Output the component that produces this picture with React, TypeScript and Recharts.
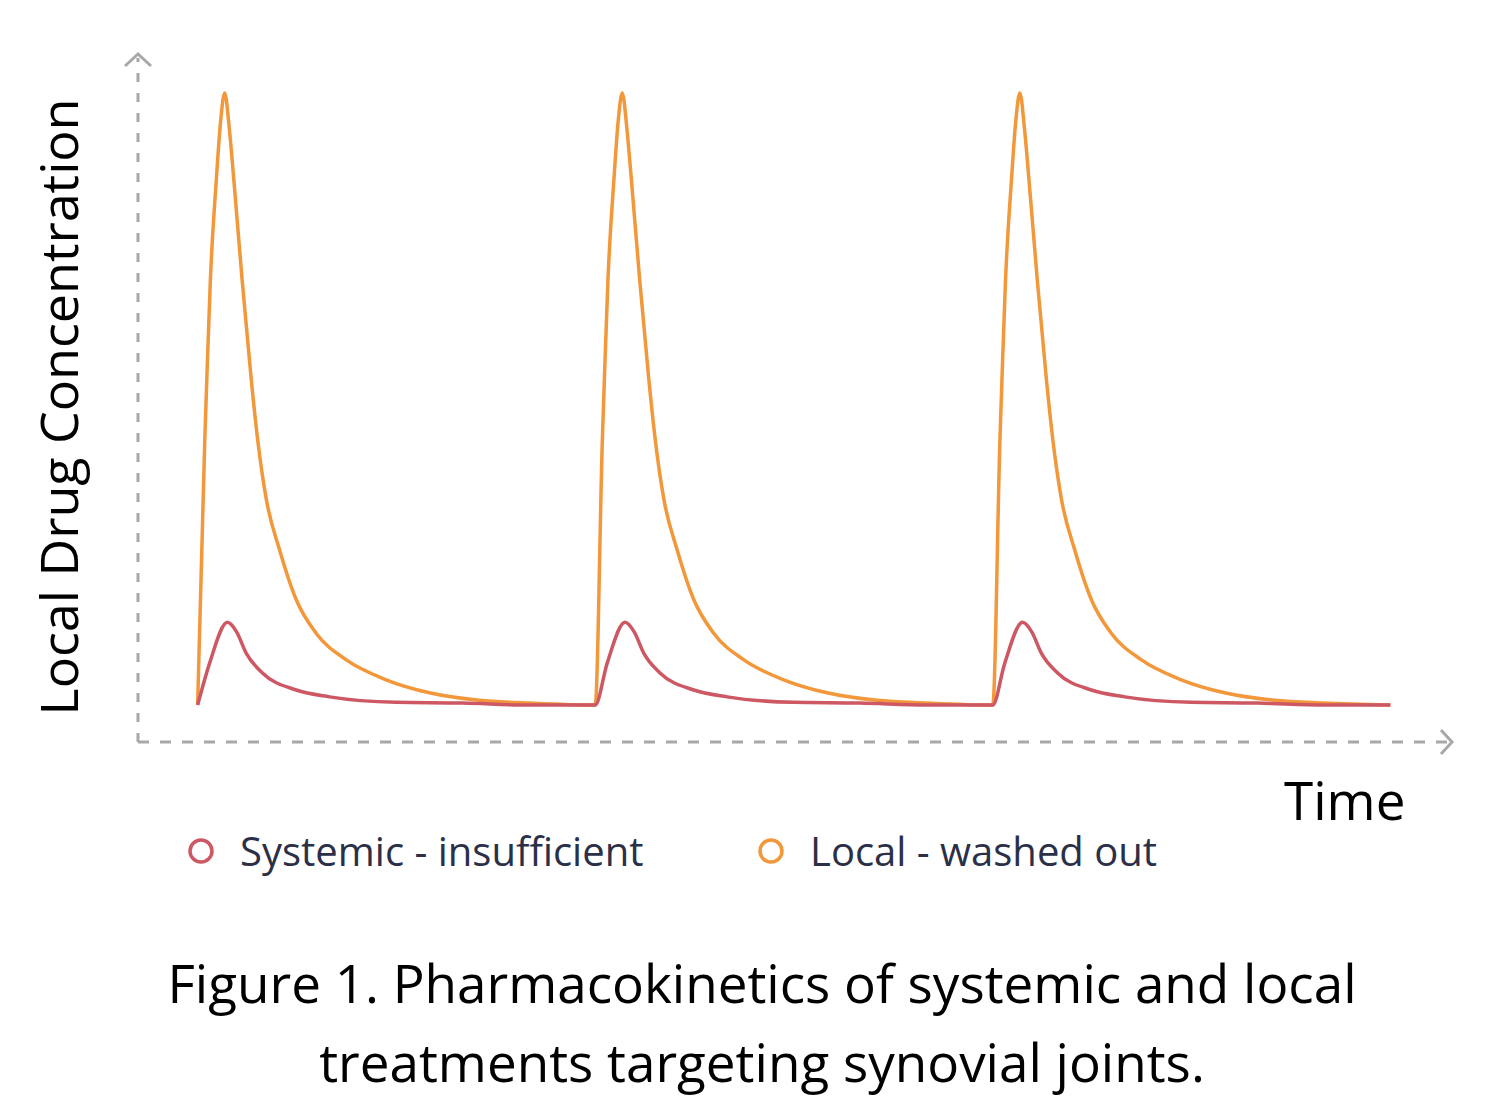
import { LineChart, Line, XAxis, YAxis, ReferenceDot, ReferenceLine } from 'recharts';

// one injection every 10 time units
const doseTimes = [1.5, 11.5, 21.5];

// local injection: time since dose -> concentration
const localOffsets = [0, 0.18, 0.23, 0.32, 0.47, 0.58, 0.68, 0.8, 0.91, 1.12, 1.35, 1.51, 1.73, 2.06, 2.48, 2.98, 3.74, 4.74, 5.83, 7.09, 8.34, 10];
const localValues = [5.4, 44.2, 52.9, 67.5, 82.2, 90.9, 94.9, 89.5, 82.2, 67.5, 52.9, 44.2, 35.4, 28.1, 20.8, 15.9, 12.0, 9.1, 7.2, 6.1, 5.7, 5.4];

// systemic treatment: time since dose -> concentration
const systemicOffsets = [0, 0.3, 0.75, 0.98, 1.22, 1.63, 2.48, 3.32, 4.99, 6.66, 8.34, 10];
const systemicValues = [5.4, 11.5, 17.5, 16.1, 13.0, 10.1, 7.6, 6.6, 5.8, 5.7, 5.4, 5.4];

const seriesNames = ['Systemic - insufficient', 'Local - washed out'];
const seriesColors = ['#cd5863', '#f2973a'];

const axisColor = '#a8a8a8';

function buildSeries(offsets: number[], values: number[]) {
  const out: { t: number; c: number }[] = [];
  doseTimes.forEach((dose, i) => {
    const last = i === doseTimes.length - 1;
    offsets.forEach((o, j) => {
      if (!last && j === offsets.length - 1) return; // next dose starts here
      out.push({ t: dose + o, c: values[j] });
    });
  });
  return out;
}

const systemicData = buildSeries(systemicOffsets, systemicValues);
const localData = buildSeries(localOffsets, localValues);

const UpArrow = (p: any) => (
  <path d={`M${p.cx - 13},${p.cy + 8} L${p.cx},${p.cy - 4} L${p.cx + 13},${p.cy + 8}`}
    fill="none" stroke={axisColor} strokeWidth={3} />
);
const RightArrow = (p: any) => (
  <path d={`M${p.cx - 9},${p.cy - 12} L${p.cx + 2},${p.cy} L${p.cx - 9},${p.cy + 12}`}
    fill="none" stroke={axisColor} strokeWidth={3} />
);

export default function App() {
  const font = '"Open Sans", sans-serif';
  return (
    <div style={{ position: 'relative', width: 1500, height: 1113, margin: -8, background: '#fff', fontFamily: font }}>
      <LineChart width={1500} height={760} margin={{ top: 58, right: 50, bottom: 18, left: 138 }}>
        <XAxis type="number" dataKey="t" domain={[0, 33]} height={0} tick={false} tickLine={false} axisLine={false} />
        <YAxis type="number" domain={[0, 100]} width={0} tick={false} tickLine={false} axisLine={false} />
        <ReferenceLine x={0} stroke={axisColor} strokeWidth={3} strokeDasharray="9 11" ifOverflow="visible" />
        <ReferenceLine y={0} stroke={axisColor} strokeWidth={3} strokeDasharray="11 11" ifOverflow="visible" />
        <Line data={localData} dataKey="c" type="monotone" stroke={seriesColors[1]} strokeWidth={3.5}
          dot={false} isAnimationActive={false} name={seriesNames[1]} />
        <Line data={systemicData} dataKey="c" type="monotone" stroke={seriesColors[0]} strokeWidth={3.5}
          dot={false} isAnimationActive={false} name={seriesNames[0]} />
        <ReferenceDot x={0} y={100} shape={UpArrow} ifOverflow="visible" />
        <ReferenceDot x={33} y={0} shape={RightArrow} ifOverflow="visible" />
      </LineChart>

      <div style={{ position: 'absolute', left: 58, top: 407, transform: 'translate(-50%, -50%) rotate(-90deg)',
        whiteSpace: 'nowrap', fontSize: 52, lineHeight: 1, color: '#000' }}>
        Local Drug Concentration
      </div>

      <div style={{ position: 'absolute', left: 1284, top: 773, fontSize: 53, lineHeight: 1, color: '#000' }}>
        Time
      </div>

      {seriesNames.map((name, i) => (
        <div key={name} style={{ position: 'absolute', left: [187, 757][i], top: 831, display: 'flex',
          alignItems: 'center', whiteSpace: 'nowrap', fontSize: 40, lineHeight: 1, color: '#2b3048' }}>
          <svg width={28} height={28} style={{ marginRight: 25 }}>
            <circle cx={14} cy={14} r={11} fill="none" stroke={seriesColors[i]} strokeWidth={3.5} />
          </svg>
          {name}
        </div>
      ))}

      <div style={{ position: 'absolute', left: 12, top: 943, width: 1500, textAlign: 'center',
        fontSize: 53, lineHeight: '79px', color: '#000' }}>
        Figure 1. Pharmacokinetics of systemic and local<br />
        treatments targeting synovial joints.
      </div>
    </div>
  );
}
